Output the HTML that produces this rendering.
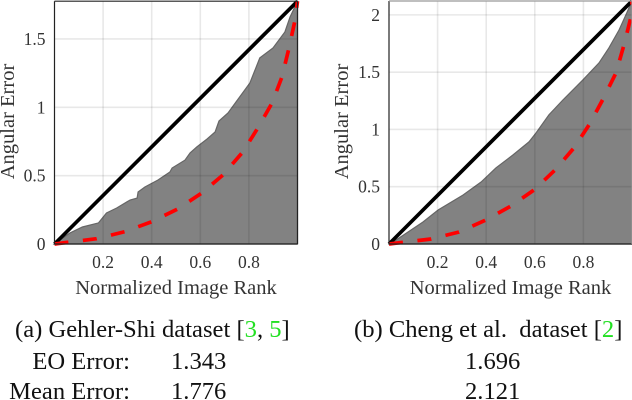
<!DOCTYPE html>
<html>
<head>
<meta charset="utf-8">
<title>Angular Error Charts</title>
<style>
html,body{margin:0;padding:0;background:#fff;width:632px;height:400px;overflow:hidden}
svg{display:block}
text{font-family:"Liberation Serif",serif}
.tick{font-size:17.5px;fill:#333}
.title{font-size:20.5px;fill:#333}
.cap{font-size:24.6px;fill:#111}
</style>
</head>
<body>
<svg id="fig" width="632" height="400" viewBox="0 0 632 400" xmlns="http://www.w3.org/2000/svg">
  <g id="chart-a"></g>
  <g id="chart-b"></g>
  <text class="cap" x="15" y="337">(a) Gehler-Shi dataset [<tspan fill="#22e022">3</tspan>, <tspan fill="#22e022">5</tspan>]</text>
  <text class="cap" x="354" y="337">(b) Cheng et al.&#160; dataset [<tspan fill="#22e022">2</tspan>]</text>
  <text class="cap" x="130" y="369" text-anchor="end">EO Error:</text>
  <text class="cap" x="130" y="399" text-anchor="end">Mean Error:</text>
  <text class="cap" x="171" y="369">1.343</text>
  <text class="cap" x="171" y="399">1.776</text>
  <text class="cap" x="465" y="369">1.696</text>
  <text class="cap" x="465" y="399">2.121</text>
</svg>
<script>
const xTicks = [0.2, 0.4, 0.6, 0.8];
const xTickLabels = ["0.2", "0.4", "0.6", "0.8"];

const aYTicks = [0, 0.5, 1, 1.5];
const aYTickLabels = ["0", "0.5", "1", "1.5"];
const aYMax = [1.776];
const aAreaRank = [0, 0.062, 0.115, 0.181, 0.214, 0.256, 0.311, 0.34, 0.344, 0.372, 0.426, 0.475, 0.484, 0.537, 0.558, 0.586, 0.628, 0.661, 0.677, 0.714, 0.747, 0.804, 0.845, 0.899, 0.948, 0.969, 1];
const aAreaError = [0, 0.08, 0.124, 0.154, 0.227, 0.263, 0.322, 0.336, 0.38, 0.417, 0.468, 0.527, 0.556, 0.614, 0.666, 0.71, 0.768, 0.819, 0.9, 0.958, 1.039, 1.178, 1.361, 1.434, 1.551, 1.66, 1.776];
const aCurveRank = [0, 0.173, 0.289, 0.4, 0.507, 0.606, 0.693, 0.775, 0.837, 0.895, 0.936, 0.965, 0.99, 1];
const aCurveError = [0, 0.039, 0.09, 0.163, 0.256, 0.373, 0.505, 0.673, 0.849, 1.031, 1.221, 1.434, 1.639, 1.776];

const bYTicks = [0, 0.5, 1, 1.5, 2];
const bYTickLabels = ["0", "0.5", "1", "1.5", "2"];
const bYMax = [2.121];
const bAreaRank = [0, 0.016, 0.14, 0.202, 0.305, 0.379, 0.44, 0.51, 0.576, 0.605, 0.658, 0.716, 0.798, 0.864, 0.905, 0.947, 0.975, 1];
const bAreaError = [0, 0.017, 0.192, 0.297, 0.428, 0.541, 0.664, 0.777, 0.891, 0.969, 1.127, 1.258, 1.432, 1.581, 1.712, 1.869, 2.0, 2.121];
const bCurveRank = [0, 0.173, 0.288, 0.399, 0.502, 0.597, 0.683, 0.761, 0.823, 0.881, 0.934, 0.967, 0.996, 1];
const bCurveError = [0, 0.044, 0.105, 0.21, 0.332, 0.472, 0.646, 0.838, 1.039, 1.266, 1.493, 1.738, 1.983, 2.121];

const NS = "http://www.w3.org/2000/svg";

function make(parent, tag, attrs) {
  const el = document.createElementNS(NS, tag);
  for (const k in attrs) el.setAttribute(k, attrs[k]);
  parent.appendChild(el);
  return el;
}

function drawChart(rootId, left, right, top, bottom, yMax, yTicks, yLabels, areaX, areaY, curveX, curveY, titleX, boxColor) {
  const root = document.getElementById(rootId);
  const sx = v => left + v * (right - left);
  const sy = v => bottom - (v / yMax) * (bottom - top);
  const pts = (xs, ys) => xs.map((v, i) => sx(v).toFixed(1) + "," + sy(ys[i]).toFixed(1)).join(" ");

  const area = make(root, "polygon", {
    points: pts(areaX, areaY) + " " + sx(1) + "," + bottom + " " + sx(0) + "," + bottom,
    fill: "#828282", stroke: "#666", "stroke-width": 1.2
  });
  
  

  xTicks.forEach((t, i) => {
    const grid = make(root, "line", {
      x1: sx(t), x2: sx(t), y1: top, y2: bottom,
      stroke: "rgba(0,0,0,0.09)", "stroke-width": 1.6
    });
    
    
    const label = make(root, "text", {
      x: sx(t), y: 268, "text-anchor": "middle", class: "tick"
    });
    label.textContent = xTickLabels[i];
    
    
  });

  yTicks.forEach((t, i) => {
    if (t > 0) {
      const grid = make(root, "line", {
        x1: left, x2: right, y1: sy(t), y2: sy(t),
        stroke: "rgba(0,0,0,0.09)", "stroke-width": 1.6
      });
      
      
    }
    const label = make(root, "text", {
      x: left - 9, y: sy(t) + 6, "text-anchor": "end", class: "tick"
    });
    label.textContent = yLabels[i];
    
    
  });

  const ideal = make(root, "line", {
    x1: sx(0), y1: sy(0), x2: sx(1), y2: sy(yMax),
    stroke: "#000", "stroke-width": 3.7
  });
  
  

  const curve = make(root, "polyline", {
    points: pts(curveX, curveY), fill: "none", stroke: "#f00",
    "stroke-width": 3.7, "stroke-dasharray": "14 14.6"
  });
  
  

  const box = make(root, "path", {
    d: "M" + left + " " + top + "V" + bottom + "H" + right,
    fill: "none", stroke: "#222", "stroke-width": 1.2
  });
  
  

  const topEdge = make(root, "path", {
    d: "M" + left + " " + top + "H" + right + "V" + bottom,
    fill: "none", stroke: boxColor, "stroke-width": 1.2
  });
  
  

  const xTitle = make(root, "text", {
    x: (left + right) / 2, y: 294, "text-anchor": "middle", class: "title"
  });
  xTitle.textContent = "Normalized Image Rank";
  
  

  const yTitle = make(root, "text", {
    x: 0, y: 0, "text-anchor": "middle", class: "title",
    transform: "translate(" + titleX + ",121.5) rotate(-90)"
  });
  yTitle.textContent = "Angular Error";
  
  
}

drawChart("chart-a", 54.5, 297.5, 1.2, 244, aYMax[0], aYTicks, aYTickLabels, aAreaRank, aAreaError, aCurveRank, aCurveError, 14, "#222");
drawChart("chart-b", 389, 632, 1, 244, bYMax[0], bYTicks, bYTickLabels, bAreaRank, bAreaError, bCurveRank, bCurveError, 348, "#999");
</script>
</body>
</html>
